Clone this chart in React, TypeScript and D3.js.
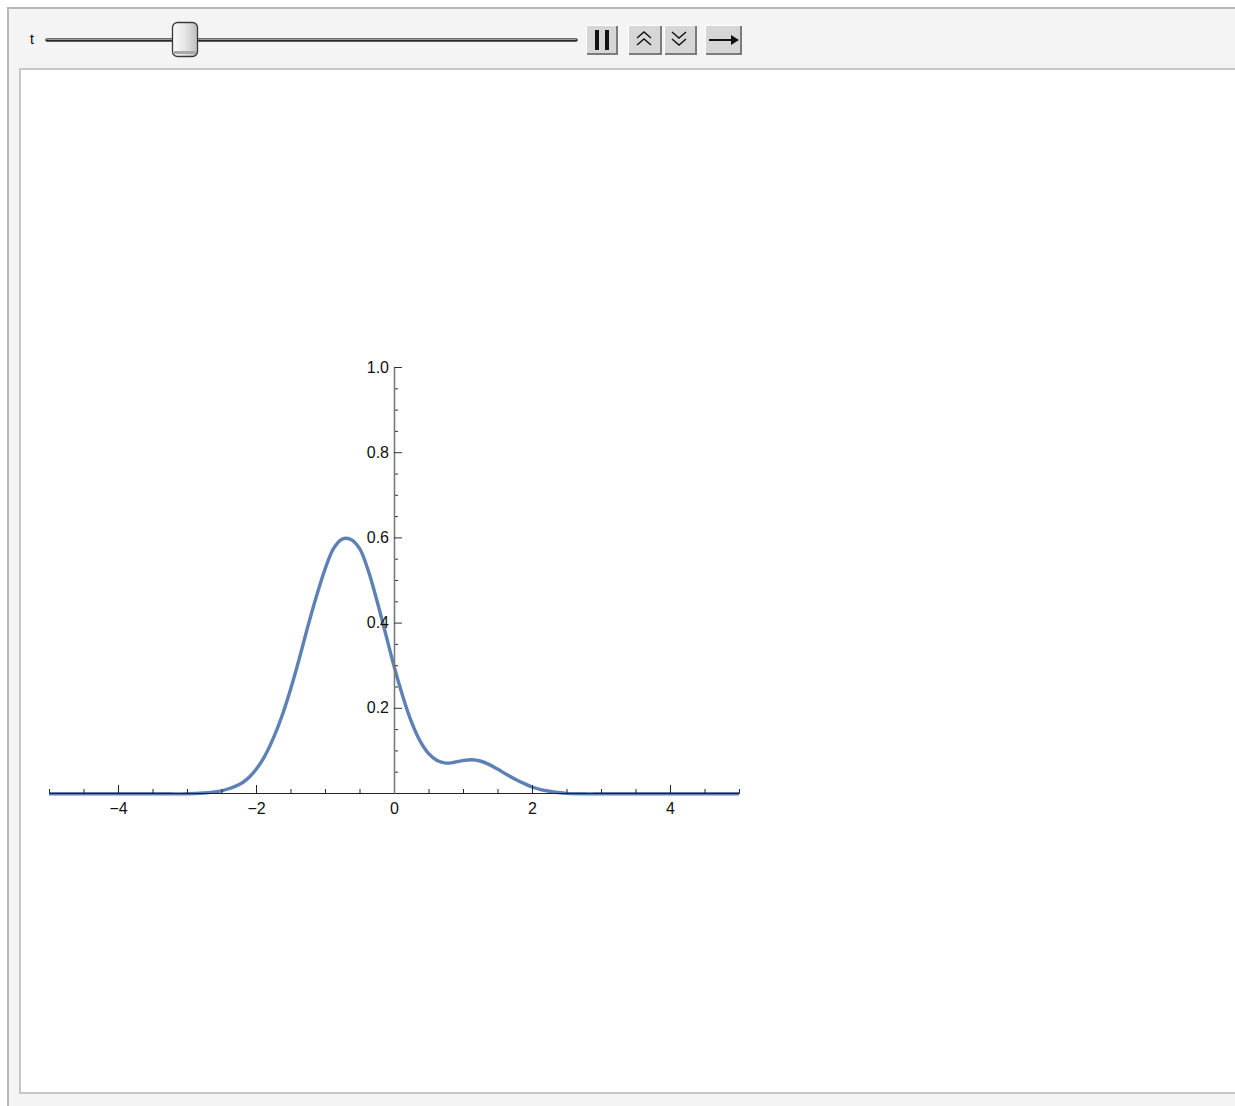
import React, { useEffect, useRef } from "react";
import * as d3 from "d3";

// curve samples
const xs = [
  -5, -4.75, -4.5, -4.25, -4, -3.75, -3.5, -3.25, -3, -2.75, -2.625, -2.5,
  -2.375, -2.25, -2.125, -2, -1.875, -1.75, -1.625, -1.5, -1.375, -1.25, -1.125,
  -1, -0.875, -0.75, -0.625, -0.5, -0.375, -0.25, -0.125, 0, 0.125, 0.25, 0.375,
  0.5, 0.625, 0.75, 0.875, 1, 1.125, 1.25, 1.375, 1.5, 1.625, 1.75, 1.875, 2,
  2.125, 2.25, 2.375, 2.5, 2.75, 3, 3.25, 3.5, 3.75, 4, 4.25, 4.5, 4.75, 5,
];
const ys = [
  0, 0, 0, 0, 0, 0, 0, 0, 0, 0.002, 0.004, 0.007,
  0.013, 0.021, 0.035, 0.057, 0.088, 0.13, 0.182, 0.245, 0.316, 0.392, 0.463,
  0.527, 0.576, 0.598, 0.597, 0.576, 0.525, 0.455, 0.378, 0.3, 0.23, 0.17, 0.125,
  0.095, 0.078, 0.072, 0.074, 0.078, 0.08, 0.077, 0.069, 0.058, 0.046, 0.035, 0.025, 0.016,
  0.01, 0.006, 0.003, 0.001, 0, 0, 0, 0, 0, 0, 0, 0, 0, 0,
];
const xMajor = [-4, -2, 0, 2, 4];
const xMinor = [-5, -4.5, -3.5, -3, -2.5, -1.5, -1, -0.5, 0.5, 1, 1.5, 2.5, 3, 3.5, 4.5, 5];
const yMajor = [0.2, 0.4, 0.6, 0.8, 1.0];
const yMinor = [0.05, 0.1, 0.15, 0.25, 0.3, 0.35, 0.45, 0.5, 0.55, 0.65, 0.7, 0.75, 0.85, 0.9, 0.95];

export default function App() {
  const svgRef = useRef<SVGSVGElement>(null);

  useEffect(() => {
    const svg = d3.select(svgRef.current);
    svg.selectAll("*").remove();

    const width = 1235;
    const height = 1106;
    const font = "'Liberation Sans', Arial, sans-serif";

    const defs = svg.append("defs");
    const grad = defs
      .append("linearGradient")
      .attr("id", "thumb")
      .attr("x1", "0")
      .attr("x2", "1")
      .attr("y1", "0")
      .attr("y2", "0");
    grad.append("stop").attr("offset", "0").attr("stop-color", "#fafafa");
    grad.append("stop").attr("offset", "0.5").attr("stop-color", "#e6e6e6");
    grad.append("stop").attr("offset", "1").attr("stop-color", "#bdbdbd");

    // frame
    svg.append("rect").attr("width", width).attr("height", height).attr("fill", "#fff");
    svg
      .append("rect")
      .attr("x", 8)
      .attr("y", 8)
      .attr("width", width)
      .attr("height", height)
      .attr("fill", "#f4f4f4")
      .attr("stroke", "#b8b8b8")
      .attr("stroke-width", 2);
    svg
      .append("rect")
      .attr("x", 20)
      .attr("y", 69)
      .attr("width", width)
      .attr("height", 1024)
      .attr("fill", "#fff")
      .attr("stroke", "#c6c6c6")
      .attr("stroke-width", 2);

    // controls
    svg
      .append("text")
      .attr("x", 30)
      .attr("y", 44)
      .attr("font-family", font)
      .attr("font-size", 14)
      .text("t");
    svg
      .append("line")
      .attr("x1", 47)
      .attr("x2", 576)
      .attr("y1", 40)
      .attr("y2", 40)
      .attr("stroke", "#2a2a2a")
      .attr("stroke-width", 3.5)
      .attr("stroke-linecap", "round");
    svg
      .append("line")
      .attr("x1", 47)
      .attr("x2", 576)
      .attr("y1", 39.3)
      .attr("y2", 39.3)
      .attr("stroke", "#9a9a9a")
      .attr("stroke-width", 1.2)
      .attr("stroke-linecap", "round");
    svg
      .append("rect")
      .attr("x", 172.5)
      .attr("y", 22.5)
      .attr("width", 25)
      .attr("height", 34)
      .attr("rx", 5)
      .attr("fill", "url(#thumb)")
      .attr("stroke", "#3a3a3a")
      .attr("stroke-width", 1.3);
    svg
      .append("rect")
      .attr("x", 174)
      .attr("y", 51)
      .attr("width", 22)
      .attr("height", 3)
      .attr("fill", "#a8a8a8");

    const buttons = [
      { x: 586, w: 32 },
      { x: 628, w: 34 },
      { x: 664, w: 33 },
      { x: 705, w: 37 },
    ];
    buttons.forEach((b) => {
      svg
        .append("rect")
        .attr("x", b.x)
        .attr("y", 25)
        .attr("width", b.w)
        .attr("height", 30)
        .attr("fill", "#d6d6d6");
      svg
        .append("path")
        .attr("d", `M${b.x + 0.5},55 V25.5 H${b.x + b.w}`)
        .attr("fill", "none")
        .attr("stroke", "#fff")
        .attr("stroke-width", 1);
      svg
        .append("path")
        .attr("d", `M${b.x + 1},54 H${b.x + b.w - 1} V26`)
        .attr("fill", "none")
        .attr("stroke", "#7c7c7c")
        .attr("stroke-width", 2);
    });
    // pause
    svg.append("rect").attr("x", 595).attr("y", 30).attr("width", 4).attr("height", 20).attr("fill", "#111");
    svg.append("rect").attr("x", 605).attr("y", 30).attr("width", 4).attr("height", 20).attr("fill", "#111");
    // faster / slower
    const chev = (cx: number, up: boolean) => {
      [0, 7].forEach((o) => {
        const yy = 34 + o;
        svg
          .append("path")
          .attr(
            "d",
            up
              ? `M${cx - 7},${yy + 4} L${cx},${yy - 2} L${cx + 7},${yy + 4}`
              : `M${cx - 7},${yy - 2} L${cx},${yy + 4} L${cx + 7},${yy - 2}`
          )
          .attr("fill", "none")
          .attr("stroke", "#111")
          .attr("stroke-width", 1.4);
      });
    };
    chev(644, true);
    chev(679, false);
    // forward arrow
    svg
      .append("line")
      .attr("x1", 709)
      .attr("x2", 733)
      .attr("y1", 40)
      .attr("y2", 40)
      .attr("stroke", "#111")
      .attr("stroke-width", 2);
    svg.append("path").attr("d", "M731,35 L739,40 L731,45 Z").attr("fill", "#111");

    // plot
    const x = d3.scaleLinear().domain([-5, 5]).range([49, 739]);
    const y = d3.scaleLinear().domain([0, 1]).range([793, 367]);
    const data = xs.map((v, i) => ({ x: v, y: ys[i] }));

    svg
      .append("path")
      .datum(data)
      .attr("fill", "none")
      .attr("stroke", "#5e81b5")
      .attr("stroke-width", 3.4)
      .attr("stroke-linejoin", "round")
      .attr(
        "d",
        d3
          .line<{ x: number; y: number }>()
          .x((d) => x(d.x))
          .y((d) => y(d.y) + 0.8)
          .curve(d3.curveCatmullRom.alpha(0.5))
      );

    const fmtX = d3.format("d");
    const xMinorG = svg.append("g").attr("transform", "translate(0,793)");
    d3.axisBottom(x).tickValues(xMinor).tickSize(-4).tickSizeOuter(0).tickFormat(() => "")(xMinorG);
    const xMajorG = svg.append("g").attr("transform", "translate(0,793)");
    d3.axisBottom(x)
      .tickValues(xMajor)
      .tickSizeInner(-8)
      .tickSizeOuter(0)
      .tickPadding(10)
      .tickFormat((d) => fmtX(d as number))(xMajorG);

    const yMinorG = svg.append("g").attr("transform", "translate(394,0)");
    d3.axisLeft(y).tickValues(yMinor).tickSize(-4).tickSizeOuter(0).tickFormat(() => "")(yMinorG);
    const yMajorG = svg.append("g").attr("transform", "translate(394,0)");
    d3.axisLeft(y)
      .tickValues(yMajor)
      .tickSizeInner(-8)
      .tickSizeOuter(0)
      .tickPadding(5)
      .tickFormat(d3.format(".1f"))(yMajorG);

    [xMinorG, xMajorG].forEach((g) => {
      g.selectAll("path,line").attr("stroke", "#222");
    });
    [yMinorG, yMajorG].forEach((g) => {
      g.selectAll("path").attr("stroke", "#777").attr("stroke-width", 1.3);
      g.selectAll("line").attr("stroke", "#333");
    });
    [xMajorG, yMajorG].forEach((g) => {
      g.selectAll("text").attr("fill", "#111").attr("font-size", 16).attr("font-family", font);
    });
    [xMinorG, xMajorG, yMinorG, yMajorG].forEach((g) => g.attr("font-family", font));
  }, []);

  return (
    <div style={{ position: "absolute", left: 0, top: 0 }}>
      <svg ref={svgRef} width={1235} height={1106} style={{ display: "block" }} />
    </div>
  );
}
